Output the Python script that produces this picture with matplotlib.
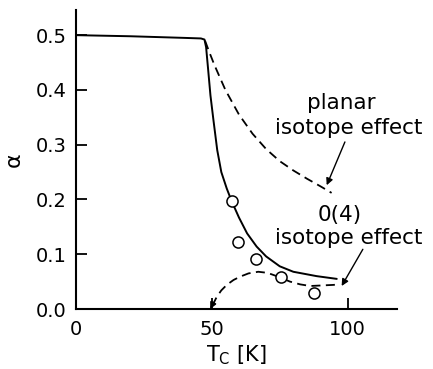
import matplotlib
matplotlib.use("Agg")
import matplotlib.pyplot as plt

plt.rcParams['font.family'] = ['DejaVu Sans']

# Solid theoretical curve
solid_x = [0, 20, 40, 46, 47.3, 47.9, 48.6, 49.5, 50.6, 52.0, 53.5, 55.5, 57.3,
           60, 63, 66.5, 70, 75, 80, 88.6, 96]
solid_y = [0.500, 0.498, 0.495, 0.494, 0.492, 0.478, 0.440, 0.390, 0.345, 0.290,
           0.250, 0.220, 0.197, 0.167, 0.138, 0.114, 0.096, 0.078, 0.068, 0.060, 0.055]

# Planar isotope effect (dashed)
planar_x = [47.5, 49, 51, 55, 60, 65, 70, 75, 80, 85, 90, 94.1]
planar_y = [0.490, 0.470, 0.445, 0.400, 0.355, 0.320, 0.292, 0.270, 0.253, 0.238, 0.224, 0.212]

# O(4) isotope effect (dashed)
o4_x = [50.2, 51.8, 53.5, 55.5, 58, 60.4, 63.5, 67.1, 70.5, 73.9, 78.8, 82.5, 86.2, 90.5, 94.7, 97.0]
o4_y = [0.006, 0.022, 0.034, 0.044, 0.053, 0.059, 0.065, 0.068, 0.066, 0.060, 0.050, 0.045, 0.042, 0.043, 0.044, 0.045]

# Measured points
pts_x = [57.3, 59.6, 66.2, 75.5, 87.8]
pts_y = [0.197, 0.123, 0.091, 0.059, 0.030]

xticks = [0, 50, 100]
yticks = [0.0, 0.1, 0.2, 0.3, 0.4, 0.5]
ytick_labels = ['0.0', '0.1', '0.2', '0.3', '0.4', '0.5']

fig = plt.figure(figsize=(4.33, 3.69), dpi=100)
ax = fig.add_axes([0.1755, 0.1626, 0.917 - 0.1755, 0.973 - 0.1626])

ax.plot(solid_x, solid_y, color='black', lw=1.4, solid_capstyle='round')
ax.plot(planar_x, planar_y, color='black', lw=1.3, dashes=(5, 3))
ax.plot(o4_x, o4_y, color='black', lw=1.3, dashes=(5, 3))
ax.plot(pts_x, pts_y, linestyle='none', marker='o', ms=8, mfc='white',
        mec='black', mew=1.1, zorder=5)

# arrowhead at start of O(4) curve
ax.annotate('', xy=(49.4, 0.0), xytext=(50.6, 0.012),
            arrowprops=dict(arrowstyle='-|>', color='black', lw=1.2,
                            mutation_scale=9, shrinkA=0, shrinkB=0))

# annotations
ax.text(97.8, 0.376, 'planar', ha='center', va='center', fontsize=15.5)
ax.text(100.5, 0.330, 'isotope effect', ha='center', va='center', fontsize=15.5)
ax.annotate('', xy=(92.3, 0.226), xytext=(99.0, 0.305),
            arrowprops=dict(arrowstyle='-|>', color='black', lw=1.0,
                            mutation_scale=10, shrinkA=0, shrinkB=0))
ax.text(97.2, 0.1715, '0(4)', ha='center', va='center', fontsize=15.5)
ax.text(100.5, 0.1296, 'isotope effect', ha='center', va='center', fontsize=15.5)
ax.annotate('', xy=(97.8, 0.042), xytext=(105.6, 0.109),
            arrowprops=dict(arrowstyle='-|>', color='black', lw=1.0,
                            mutation_scale=10, shrinkA=0, shrinkB=0))

ax.set_xlim(0, 118.2)
ax.set_ylim(0, 0.546)
ax.set_xticks(xticks)
ax.set_xticklabels([str(t) for t in xticks])
ax.set_yticks(yticks)
ax.set_yticklabels(ytick_labels)
ax.spines['top'].set_visible(False)
ax.spines['right'].set_visible(False)
ax.spines['left'].set_linewidth(1.5)
ax.spines['bottom'].set_linewidth(1.5)
ax.tick_params(direction='in', length=8, width=1.3, labelsize=14, pad=7)
ax.tick_params(axis='x', pad=8)

ax.set_xlabel('T$_\\mathrm{C}$ [K]', fontsize=15, labelpad=3)
ax.set_ylabel('\u03b1', fontsize=16, labelpad=8)

fig.savefig('out.png', dpi=100)
